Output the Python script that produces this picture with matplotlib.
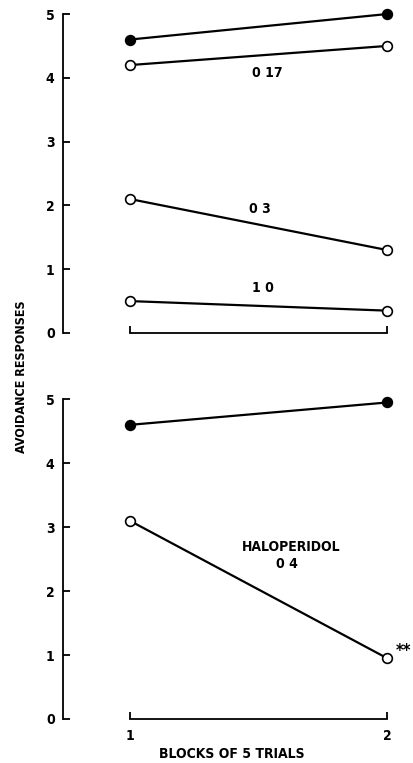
import matplotlib
matplotlib.use("Agg")
import matplotlib.pyplot as plt

plt.rcParams['font.family'] = ['DejaVu Sans']
plt.rcParams['font.stretch'] = 'condensed'
plt.rcParams['font.weight'] = 'bold'
plt.rcParams['axes.labelweight'] = 'bold'

blocks = [1, 2]

# top panel
top_control = [4.6, 5.0]
top_017 = [4.2, 4.5]
top_03 = [2.1, 1.3]
top_10 = [0.5, 0.35]

# bottom panel (haloperidol)
bot_control = [4.6, 4.95]
bot_04 = [3.1, 0.95]

yticks = [0, 1, 2, 3, 4, 5]

fig = plt.figure(figsize=(4.13, 7.63), dpi=100)
ax_top = fig.add_axes([0.1525, 0.5636, 0.816, 0.418])
ax_bot = fig.add_axes([0.1525, 0.0577, 0.816, 0.419])


def style_axis(ax, show_xlabels):
    ax.set_xlim(0.74, 2.05)
    ax.set_ylim(0, 5)
    for s in ['top', 'right']:
        ax.spines[s].set_visible(False)
    ax.spines['left'].set_linewidth(1.3)
    ax.spines['bottom'].set_linewidth(1.3)
    ax.spines['bottom'].set_bounds(1, 2)
    ax.set_yticks(yticks)
    ax.set_xticks(blocks)
    ax.tick_params(axis='y', direction='in', length=5, width=1.3,
                   labelsize=10, pad=6)
    ax.tick_params(axis='x', direction='in', length=5, width=1.3,
                   labelsize=10, pad=7)
    if not show_xlabels:
        ax.set_xticklabels([])


def series(ax, vals, filled):
    ax.plot(blocks, vals, color='black', linewidth=1.6, marker='o',
            markersize=7, markeredgewidth=1.2, markeredgecolor='black',
            markerfacecolor='black' if filled else 'white', clip_on=False,
            zorder=3)


style_axis(ax_top, False)
series(ax_top, top_control, True)
series(ax_top, top_017, False)
series(ax_top, top_03, False)
series(ax_top, top_10, False)
ax_top.text(1.534, 4.08, "0 17", ha='center', va='center', fontsize=10)
ax_top.text(1.507, 1.95, "0 3", ha='center', va='center', fontsize=10)
ax_top.text(1.518, 0.70, "1 0", ha='center', va='center', fontsize=10)

style_axis(ax_bot, True)
series(ax_bot, bot_control, True)
series(ax_bot, bot_04, False)
ax_bot.text(1.627, 2.69, "HALOPERIDOL", ha='center', va='center', fontsize=10)
ax_bot.text(1.612, 2.42, "0 4", ha='center', va='center', fontsize=10)
ax_bot.annotate("**", xy=(2, bot_04[1]), xytext=(12, 5),
                textcoords='offset points', ha='center', va='center',
                fontsize=12, annotation_clip=False)
ax_bot.set_xlabel("BLOCKS OF 5 TRIALS", fontsize=10, labelpad=3)

fig.text(0.051, 1 - 376.5 / 763, "AVOIDANCE RESPONSES", rotation=90,
         ha='center', va='center', fontsize=9)

fig.savefig("out.png", dpi=100)
